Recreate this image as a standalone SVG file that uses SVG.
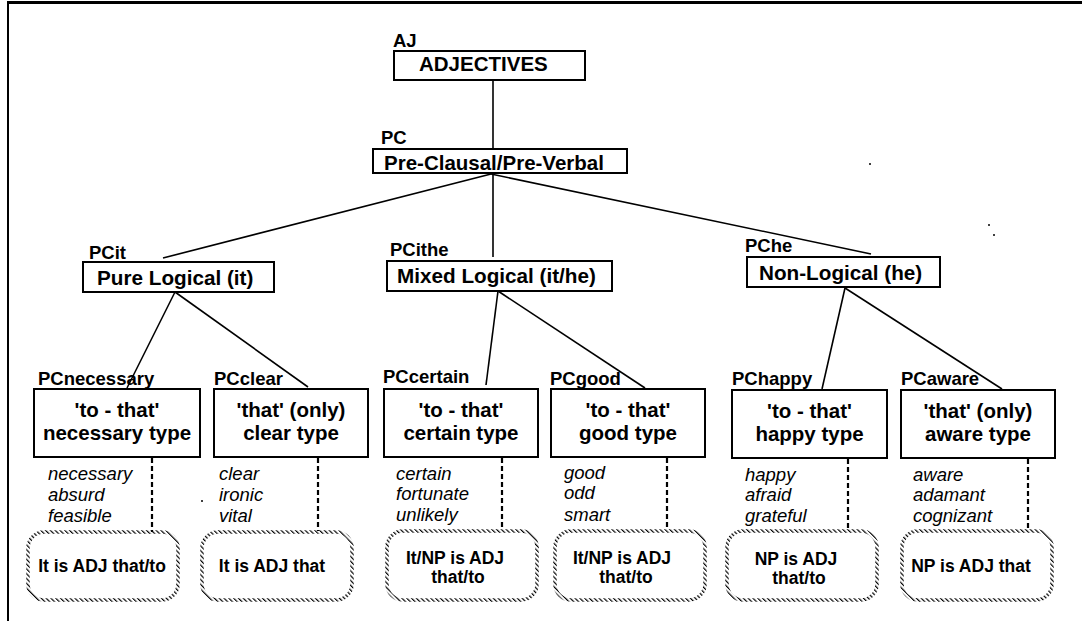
<svg xmlns="http://www.w3.org/2000/svg" width="1082" height="626" viewBox="0 0 1082 626">
<style>
text{font-family:"Liberation Sans",Arial,sans-serif;fill:#000}
.lbl{font-weight:bold;font-size:18.5px}
.t1{font-weight:bold;font-size:20.5px}
.t2{font-weight:bold;font-size:20.7px}
.t3{font-weight:bold;font-size:20.5px;text-anchor:middle}
.it{font-style:italic;font-size:18.5px}
.t4{font-weight:bold;font-size:17.5px;text-anchor:middle}
.box{fill:#fff;stroke:#000;stroke-width:2}
.rbox{fill:#fff;stroke:url(#hatch);stroke-width:3.5}
.con line{stroke:#000;stroke-width:1.6}
.con .dash{stroke-width:2.2;stroke-dasharray:5 3}
</style>
<defs>
<pattern id="hatch" width="3.4" height="3.4" patternUnits="userSpaceOnUse" patternTransform="rotate(-45)">
<rect width="1.2" height="3.4" fill="#000"/>
</pattern>
</defs>
<rect width="1082" height="626" fill="#fff"/>
<g id="frame">
<line x1="7" y1="2.5" x2="1082" y2="2.5" stroke="#000" stroke-width="3"/>
<line x1="8" y1="1" x2="8" y2="621" stroke="#000" stroke-width="2"/>
</g>
<g id="dots" fill="#000">
<circle cx="870" cy="164" r="1"/>
<circle cx="989" cy="225" r="1"/>
<circle cx="994" cy="235" r="1"/>
<circle cx="202" cy="501" r="1"/>
</g>
<g class="con" id="connectors">
<line x1="493" y1="80" x2="493" y2="149"/>
<line x1="491" y1="174" x2="163" y2="258"/>
<line x1="493" y1="174" x2="493" y2="257"/>
<line x1="491" y1="174" x2="871" y2="254"/>
<line x1="175" y1="292" x2="127" y2="388"/>
<line x1="175" y1="292" x2="308" y2="387"/>
<line x1="498" y1="291" x2="486" y2="385"/>
<line x1="498" y1="291" x2="645" y2="388"/>
<line x1="845" y1="288" x2="822" y2="389"/>
<line x1="845" y1="288" x2="1002" y2="389"/>
<line class="dash" x1="152" y1="458" x2="152" y2="532"/>
<line class="dash" x1="318" y1="458" x2="318" y2="531"/>
<line class="dash" x1="502" y1="458" x2="502" y2="530"/>
<line class="dash" x1="667" y1="458" x2="667" y2="530"/>
<line class="dash" x1="848" y1="459" x2="848" y2="530"/>
<line class="dash" x1="1028" y1="459" x2="1028" y2="530"/>
</g>
<g id="AJ">
<text class="lbl" x="393" y="47">AJ</text>
<rect class="box" x="394" y="51" width="191" height="29"/>
<text class="t1" x="419" y="71">ADJECTIVES</text>
</g>
<g id="PC">
<text class="lbl" x="381" y="144">PC</text>
<rect class="box" x="373" y="149" width="254" height="24"/>
<text class="t1" x="384" y="170">Pre-Clausal/Pre-Verbal</text>
</g>
<g id="PCit">
<text class="lbl" x="89" y="259">PCit</text>
<rect class="box" x="83" y="262" width="191" height="30"/>
<text class="t2" x="97" y="285">Pure Logical (it)</text>
</g>
<g id="PCithe">
<text class="lbl" x="390" y="256">PCithe</text>
<rect class="box" x="387" y="261" width="225" height="30"/>
<text class="t2" x="397" y="283">Mixed Logical (it/he)</text>
</g>
<g id="PChe">
<text class="lbl" x="745" y="252">PChe</text>
<rect class="box" x="747" y="257" width="193" height="30"/>
<text class="t2" x="759" y="280">Non-Logical (he)</text>
</g>
<g id="PCnecessary">
<text class="lbl" x="38" y="385">PCnecessary</text>
<rect class="box" x="34" y="389" width="166" height="68"/>
<text class="t3" x="117" y="417">'to - that'</text>
<text class="t3" x="117" y="440">necessary type</text>
<text class="it" x="48" y="480">necessary</text>
<text class="it" x="48" y="501">absurd</text>
<text class="it" x="48" y="522">feasible</text>
<rect class="rbox" x="28" y="532" width="150" height="68" rx="16"/>
<text class="t4" x="102" y="572">It is ADJ that/to</text>
</g>
<g id="PCclear">
<text class="lbl" x="214" y="385">PCclear</text>
<rect class="box" x="214" y="389" width="154" height="68"/>
<text class="t3" x="291" y="417">'that' (only)</text>
<text class="t3" x="291" y="440">clear type</text>
<text class="it" x="219" y="480">clear</text>
<text class="it" x="219" y="501">ironic</text>
<text class="it" x="219" y="522">vital</text>
<rect class="rbox" x="202" y="532" width="150" height="68" rx="16"/>
<text class="t4" x="272" y="572">It is ADJ that</text>
</g>
<g id="PCcertain">
<text class="lbl" x="383" y="383">PCcertain</text>
<rect class="box" x="384" y="389" width="154" height="68"/>
<text class="t3" x="461" y="417">'to - that'</text>
<text class="t3" x="461" y="440">certain type</text>
<text class="it" x="396" y="480">certain</text>
<text class="it" x="396" y="500">fortunate</text>
<text class="it" x="396" y="521">unlikely</text>
<rect class="rbox" x="387" y="531" width="150" height="69" rx="16"/>
<text class="t4" x="455" y="564">It/NP is ADJ</text>
<text class="t4" x="458" y="583">that/to</text>
</g>
<g id="PCgood">
<text class="lbl" x="550" y="385">PCgood</text>
<rect class="box" x="551" y="389" width="154" height="68"/>
<text class="t3" x="628" y="417">'to - that'</text>
<text class="t3" x="628" y="440">good type</text>
<text class="it" x="564" y="479">good</text>
<text class="it" x="564" y="499">odd</text>
<text class="it" x="564" y="521">smart</text>
<rect class="rbox" x="555" y="531" width="150" height="69" rx="16"/>
<text class="t4" x="622" y="564">It/NP is ADJ</text>
<text class="t4" x="626" y="583">that/to</text>
</g>
<g id="PChappy">
<text class="lbl" x="732" y="385">PChappy</text>
<rect class="box" x="732" y="390" width="155" height="68"/>
<text class="t3" x="809.5" y="418">'to - that'</text>
<text class="t3" x="809.5" y="441">happy type</text>
<text class="it" x="745" y="481">happy</text>
<text class="it" x="745" y="501">afraid</text>
<text class="it" x="745" y="522">grateful</text>
<rect class="rbox" x="727" y="531" width="150" height="69" rx="16"/>
<text class="t4" x="796" y="565">NP is ADJ</text>
<text class="t4" x="799" y="584">that/to</text>
</g>
<g id="PCaware">
<text class="lbl" x="901" y="385">PCaware</text>
<rect class="box" x="901" y="390" width="154" height="68"/>
<text class="t3" x="978" y="418">'that' (only)</text>
<text class="t3" x="978" y="441">aware type</text>
<text class="it" x="913" y="481">aware</text>
<text class="it" x="913" y="501">adamant</text>
<text class="it" x="913" y="522">cognizant</text>
<rect class="rbox" x="902" y="531" width="150" height="69" rx="16"/>
<text class="t4" x="971" y="572">NP is ADJ that</text>
</g>
</svg>
